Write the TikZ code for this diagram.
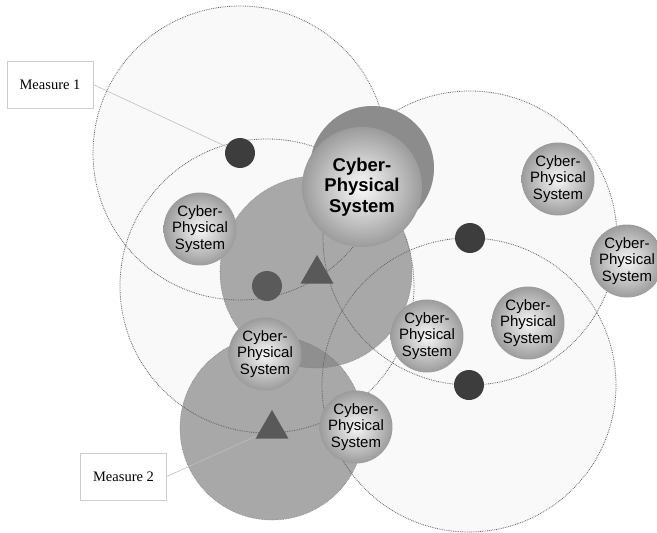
\documentclass[tikz,border=0pt]{standalone}
\usepackage{fontspec}
\setmainfont{Liberation Serif}
\setsansfont{Liberation Sans}
\usetikzlibrary{shapes.geometric}
\definecolor{fieldfill}{gray}{0.975}
\definecolor{fieldline}{gray}{0.38}
\definecolor{zonefill}{gray}{0.66}
\definecolor{zonelap}{gray}{0.56}
\definecolor{zoneline}{gray}{0.5}
\definecolor{backcps}{gray}{0.55}
\definecolor{dotgray}{gray}{0.24}
\definecolor{markgray}{gray}{0.35}
\tikzset{
  field/.style={densely dotted, line width=0.8pt, draw=fieldline},
  zoneedge/.style={densely dotted, line width=0.6pt, draw=zoneline},
  cps/.style={circle, minimum size=68pt, inner sep=0pt, shading=radial,
    inner color=gray!6, outer color=gray!78, align=center,
    font=\sffamily\fontsize{15}{16.5}\selectfont},
  bigcps/.style={cps, minimum size=120pt, inner color=gray!4,
    font=\sffamily\bfseries\fontsize{18.5}{20.5}\selectfont},
  centre/.style={circle, minimum size=30pt, inner sep=0pt, fill=dotgray},
  marker/.style={regular polygon, regular polygon sides=3, minimum size=38pt,
    inner sep=0pt, fill=markgray},
  measure/.style={draw=gray!40, fill=white, minimum width=86pt, minimum height=47pt,
    font=\fontsize{14.5}{16}\selectfont},
  tie/.style={draw=gray!50, line width=0.6pt}
}
\begin{document}
\begin{tikzpicture}[x=1pt, y=-1pt]
  \useasboundingbox (0,0) rectangle (657,533);
  % centres of the fields
  \coordinate (P1) at (240,153);
  \coordinate (P2) at (267,286);
  \coordinate (P3) at (470,238);
  \coordinate (P4) at (469,385);
  % centres of the measured zones
  \coordinate (Z1) at (316,272);
  \coordinate (Z2) at (272,428);
  % fields
  \foreach \p in {P1,P2,P3,P4}
    \fill[fieldfill] (\p) circle[radius=147pt];
  % zones
  \fill[zonefill] (Z1) circle[radius=96pt];
  \fill[zonefill] (Z2) circle[radius=92pt];
  \begin{scope}
    \clip (Z1) circle[radius=96pt];
    \fill[zonelap] (Z2) circle[radius=92pt];
  \end{scope}
  \foreach \p in {P1,P2,P3,P4}
    \draw[field] (\p) circle[radius=147pt];
  \draw[zoneedge] (Z1) circle[radius=96pt];
  \draw[zoneedge] (Z2) circle[radius=92pt];
  % centre points and measure points
  \node[centre] (d1) at (P1) {};
  \node[centre, fill=dotgray!85] (d2) at (P2) {};
  \node[centre] (d3) at (P3) {};
  \node[centre] (d4) at (P4) {};
  \node[marker] (t1) at (317,274) {};
  \node[marker] (t2) at (272,429) {};
  % systems
  \node[cps] (cpsL)  at (200,229) {Cyber-\\Physical\\System};
  \node[cps] (cpsRT) at (558,179) {Cyber-\\Physical\\System};
  \node[cps] (cpsFR) at (627,261) {Cyber-\\Physical\\System};
  \node[cps] (cpsC)  at (427,336) {Cyber-\\Physical\\System};
  \node[cps] (cpsR)  at (528,323) {Cyber-\\Physical\\System};
  \node[cps] (cpsB)  at (356,427) {Cyber-\\Physical\\System};
  \node[cps] (cpsM)  at (265,354) {Cyber-\\Physical\\System};
  \node[circle, minimum size=124pt, fill=backcps] (bigback) at (372,168) {};
  \node[bigcps] (big) at (362,187) {Cyber-\\Physical\\System};
  % measures
  \node[measure] (m1) at (50,84.5) {Measure 1};
  \node[measure] (m2) at (123.5,476.5) {Measure 2};
  \draw[tie] (m1.east) -- (d1);
  \draw[tie] (m2.east) -- (t2);
\end{tikzpicture}
\end{document}
